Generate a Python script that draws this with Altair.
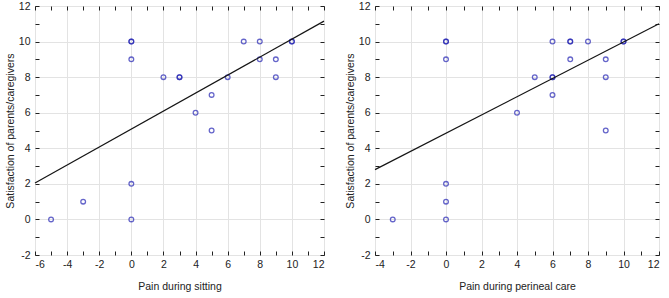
import altair as alt
import pandas as pd

# Left panel: pain during sitting
sit_x = [0, 0, 0, 2, 3, 3, 4, 5, 5, 6, 7, 8, 8, 9, 9, 10, 10, 0, 0, -3, -5]
sit_y = [10, 10, 9, 8, 8, 8, 6, 7, 5, 8, 10, 10, 9, 9, 8, 10, 10, 2, 0, 1, 0]
sit_line_x = [-6, 12]
sit_line_y = [2.05, 11.15]

# Right panel: pain during perineal care
per_x = [0, 0, 0, 4, 5, 6, 6, 6, 6, 7, 7, 7, 8, 9, 9, 9, 10, 10, 0, 0, 0, -3]
per_y = [10, 10, 9, 6, 8, 10, 8, 8, 7, 10, 10, 9, 10, 9, 8, 5, 10, 10, 2, 1, 0, 0]
per_line_x = [-4, 12]
per_line_y = [2.8, 11.0]

y_title = "Satisfaction of parents/caregivers"
FONT = "Liberation Sans"
TICK = 4
HIDE_ODD = "datum.value % 2 === 0 ? toString(datum.value) : ''"
GRID_EVEN = {"condition": {"test": "datum.value % 2 !== 0", "value": 0}, "value": 1}


def panel(px, py, lx, ly, xmin, xtitle, w):
    pts = pd.DataFrame({"x": px, "y": py})
    ln = pd.DataFrame({"x": lx, "y": ly})
    xs = alt.Scale(domain=[xmin, 12], nice=False, zero=False)
    ys = alt.Scale(domain=[-2, 12], nice=False, zero=False)
    xvals = list(range(xmin, 13))
    yvals = list(range(-2, 13))

    main = alt.Chart(pts).mark_point(
        shape="circle", filled=False, color="#2424b4", size=22, strokeWidth=1.3
    ).encode(
        x=alt.X("x:Q", scale=xs, title=xtitle,
                axis=alt.Axis(values=xvals, labelExpr=HIDE_ODD, offset=-TICK,
                              tickSize=TICK, domain=False, gridOpacity=GRID_EVEN,
                              labelPadding=4, titlePadding=12)),
        y=alt.Y("y:Q", scale=ys, title=y_title,
                axis=alt.Axis(values=yvals, labelExpr=HIDE_ODD, offset=-TICK,
                              tickSize=TICK, domain=False, gridOpacity=GRID_EVEN,
                              labelPadding=5, titlePadding=3)),
    )
    line = alt.Chart(ln).mark_line(color="#151515", strokeWidth=1.2).encode(
        x=alt.X("x:Q", scale=xs, axis=None), y=alt.Y("y:Q", scale=ys, axis=None)
    )
    frame = alt.Chart(pts).mark_point(opacity=0).encode(
        x=alt.X("x:Q", scale=xs,
                axis=alt.Axis(orient="top", values=xvals, labels=False, title="",
                              offset=-TICK, tickSize=TICK, domain=False, grid=False)),
        y=alt.Y("y:Q", scale=ys,
                axis=alt.Axis(orient="right", values=yvals, labels=False, title="",
                              offset=-TICK, tickSize=TICK, domain=False, grid=False)),
    )
    return alt.layer(main, line, frame).resolve_axis(
        x="independent", y="independent"
    ).properties(width=w, height=249)


left = panel(sit_x, sit_y, sit_line_x, sit_line_y, -6, "Pain during sitting", 289)
right = panel(per_x, per_y, per_line_x, per_line_y, -4, "Pain during perineal care", 284)

chart = alt.hconcat(left, right, spacing=51, bounds="flush").properties(
    padding={"left": 4, "top": 0, "right": 5, "bottom": 2},
    background="white",
).configure_view(stroke="black", strokeWidth=1).configure_axis(
    labelFont=FONT, titleFont=FONT, labelFontSize=10.5, titleFontSize=10.5,
    labelColor="#222222", titleColor="#222222", titleFontWeight="normal",
    tickColor="#222222", gridColor="#e3e3e3", tickWidth=1,
)

chart.save("out.html", embed_options={"renderer": "svg", "actions": False})
